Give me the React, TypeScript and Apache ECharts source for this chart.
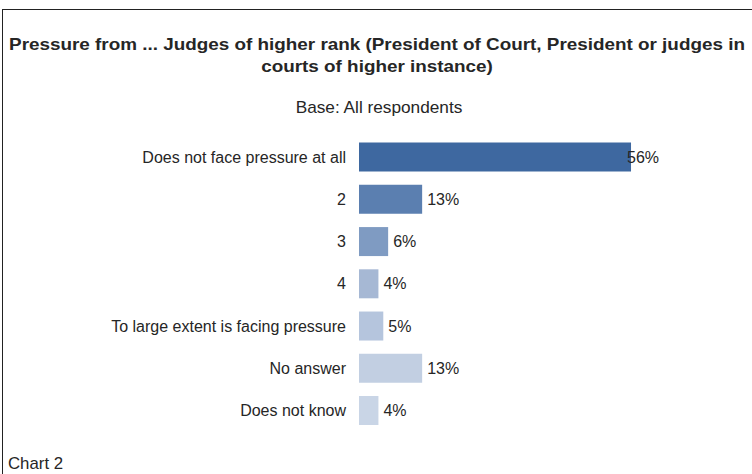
import React, { useEffect, useRef } from "react";
import * as echarts from "echarts";

const categories = [
  "Does not face pressure at all",
  "2",
  "3",
  "4",
  "To large extent is facing pressure",
  "No answer",
  "Does not know",
];
const values = [56, 13, 6, 4, 5, 13, 4];
const barColors = ["#3e68a0", "#5b7fb0", "#7f9bc2", "#a6b8d4", "#b5c5dd", "#c2cfe2", "#c9d5e6"];
const titleLines = [
  "Pressure from ... Judges of higher rank (President of Court, President or judges in",
  "courts of higher instance)",
];
const subtitleText = "Base: All respondents";
const footerText = "Chart 2";

export default function App() {
  const ref = useRef<HTMLDivElement>(null);
  useEffect(() => {
    if (!ref.current) return;
    const chart = echarts.init(ref.current, undefined, { renderer: "svg" });
    const font = "'Liberation Sans', Arial, sans-serif";
    const txt = "#262626";
    chart.setOption({
      animation: false,
      backgroundColor: "#ffffff",
      textStyle: { fontFamily: font },
      graphic: [
        { type: "line", shape: { x1: 2, y1: 9.5, x2: 752, y2: 9.5 }, style: { stroke: "#222", lineWidth: 1 } },
        { type: "line", shape: { x1: 2.5, y1: 9, x2: 2.5, y2: 474 }, style: { stroke: "#222", lineWidth: 1 } },
        {
          type: "text", x: 377, y: 45, scaleX: 1.18,
          style: { text: titleLines[0], font: `bold 16px ${font}`, fill: txt, align: "center", verticalAlign: "middle" },
        },
        {
          type: "text", x: 377, y: 67, scaleX: 1.18,
          style: { text: titleLines[1], font: `bold 16px ${font}`, fill: txt, align: "center", verticalAlign: "middle" },
        },
        {
          type: "text", x: 379, y: 107.5, scaleX: 1.078,
          style: { text: subtitleText, font: `16px ${font}`, fill: txt, align: "center", verticalAlign: "middle" },
        },
        {
          type: "text", x: 8, y: 463, scaleX: 1.05,
          style: { text: footerText, font: `16px ${font}`, fill: txt, align: "left", verticalAlign: "middle" },
        },
      ],
      grid: { left: 359, top: 136, width: 388.6, height: 295.6, containLabel: false },
      xAxis: { type: "value", min: 0, max: 80, show: false },
      yAxis: {
        type: "category",
        data: categories,
        inverse: true,
        axisLine: { show: false },
        axisTick: { show: false },
        axisLabel: { fontFamily: font, fontSize: 16, color: txt, margin: 13 },
      },
      series: [
        {
          type: "bar",
          barWidth: 29,
          data: values.map((v, i) => ({
            value: v,
            itemStyle: { color: barColors[i] },
            label: i === 0 ? { offset: [-9, 0] } : undefined,
          })),
          label: {
            show: true,
            position: "right",
            distance: 5,
            formatter: "{c}%",
            fontFamily: font,
            fontSize: 16,
            color: txt,
          },
        },
      ],
    });
    return () => chart.dispose();
  }, []);
  return <div ref={ref} style={{ position: "absolute", left: 0, top: 0, width: 752, height: 474 }} />;
}
